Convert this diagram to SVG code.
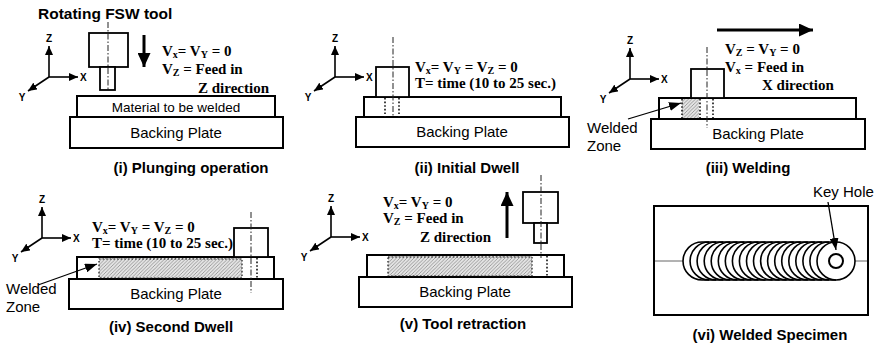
<svg xmlns="http://www.w3.org/2000/svg" width="881" height="348" viewBox="0 0 881 348">
  <style>
    .plate { fill: #fff; stroke: #000; stroke-width: 2; }
    .tool { fill: #fff; stroke: #000; stroke-width: 1.8; }
    .cl { fill: none; stroke: #222; stroke-width: 1; stroke-dasharray: 6 2 1.5 2; }
    .dot { fill: none; stroke: #111; stroke-width: 1.6; stroke-dasharray: 1.6 2; }
    .axis { stroke: #000; stroke-width: 1.6; marker-end: url(#axhead); }
    .axl { font: bold 10px "Liberation Sans", Arial, sans-serif; fill: #000; }
    .eq { font: bold 15px "Liberation Serif", "Times New Roman", serif; fill: #000; }
    .sub { font-size: 10px; }
    .lbl { font: 15px "Liberation Sans", Arial, sans-serif; fill: #000; }
    .mat { font: 13.5px "Liberation Sans", Arial, sans-serif; fill: #000; }
    .cap { font: bold 15px "Liberation Sans", Arial, sans-serif; fill: #000; }
    .move { stroke: #000; stroke-width: 3; fill: none; }
    .lead { stroke: #000; stroke-width: 1.3; fill: none; marker-end: url(#leadhead); }
    .weld { fill: none; stroke: #000; stroke-width: 1.6; }
  </style>
  <defs>
    <marker id="axhead" markerUnits="userSpaceOnUse" markerWidth="9" markerHeight="8" refX="9" refY="4" orient="auto">
      <path d="M0,0 L9,4 L0,8 z" fill="#000"/>
    </marker>
    <marker id="leadhead" markerUnits="userSpaceOnUse" markerWidth="12" markerHeight="9" refX="12" refY="4.5" orient="auto">
      <path d="M0,0 L12,4.5 L0,9 z" fill="#000"/>
    </marker>
    <marker id="movehead" markerUnits="userSpaceOnUse" markerWidth="14" markerHeight="13" refX="14" refY="6.5" orient="auto">
      <path d="M0,0 L14,6.5 L0,13 z" fill="#000"/>
    </marker>
    <pattern id="hatch" patternUnits="userSpaceOnUse" width="3.5" height="3.5">
      <rect width="3.5" height="3.5" fill="#e4e4e4"/>
      <path d="M-1,4.5 L4.5,-1" stroke="#8a8a8a" stroke-width="0.8"/>
    </pattern>
  </defs>

  <rect width="881" height="348" fill="#fff"/>

  <!-- (i) Plunging -->
  <g id="step-plunging">
    <text class="cap" x="38" y="19" style="font-size:15.5px">Rotating FSW tool</text>
    <g transform="translate(49,77)">
      <line class="axis" x1="0" y1="0" x2="0" y2="-31"/>
      <line class="axis" x1="0" y1="0" x2="29" y2="0"/>
      <line class="axis" x1="0" y1="0" x2="-21" y2="14"/>
      <text class="axl" x="0" y="-35" text-anchor="middle">Z</text>
      <text class="axl" x="31" y="4">X</text>
      <text class="axl" x="-27" y="24" text-anchor="middle">Y</text>
    </g>
    <rect class="plate" x="70" y="117" width="213" height="31"/>
    <rect class="plate" x="77" y="96" width="198" height="21"/>
    <text class="mat" x="176" y="112" text-anchor="middle">Material to be welded</text>
    <text class="lbl" x="176" y="138" text-anchor="middle">Backing Plate</text>
    <rect class="tool" x="89" y="33" width="39" height="34"/>
    <rect class="tool" x="100" y="67" width="15" height="23"/>
    <line class="cl" x1="108" y1="22" x2="108" y2="91"/>
    <text class="eq" x="162" y="56">V<tspan class="sub" dy="2">x</tspan><tspan dy="-2">= V</tspan><tspan class="sub" dy="2">Y</tspan><tspan dy="-2"> = 0</tspan></text>
    <text class="eq" x="162" y="74">V<tspan class="sub" dy="2">Z</tspan><tspan dy="-2"> = Feed in</tspan></text>
    <text class="eq" x="198" y="93">Z direction</text>
    <text class="cap" x="191" y="173" text-anchor="middle">(i) Plunging operation</text>
  </g>

  <!-- (ii) Initial dwell -->
  <g id="step-initial-dwell">
    <g transform="translate(335,77)">
      <line class="axis" x1="0" y1="0" x2="0" y2="-31"/>
      <line class="axis" x1="0" y1="0" x2="29" y2="0"/>
      <line class="axis" x1="0" y1="0" x2="-21" y2="14"/>
      <text class="axl" x="0" y="-35" text-anchor="middle">Z</text>
      <text class="axl" x="31" y="4">X</text>
      <text class="axl" x="-27" y="24" text-anchor="middle">Y</text>
    </g>
    <rect class="plate" x="356" y="117" width="213" height="30"/>
    <rect class="plate" x="364" y="97" width="197" height="20"/>
    <text class="lbl" x="462" y="137" text-anchor="middle">Backing Plate</text>
    <rect class="tool" x="376" y="67" width="33" height="30"/>
    <line class="dot" x1="385" y1="98" x2="385" y2="117"/>
    <line class="dot" x1="399" y1="98" x2="399" y2="117"/>
    <line class="cl" x1="393" y1="37" x2="393" y2="117"/>
    <text class="eq" x="415" y="72">V<tspan class="sub" dy="2">x</tspan><tspan dy="-2">= V</tspan><tspan class="sub" dy="2">Y</tspan><tspan dy="-2"> = V</tspan><tspan class="sub" dy="2">Z</tspan><tspan dy="-2"> = 0</tspan></text>
    <text class="eq" x="415" y="88">T= time (10 to 25 sec.)</text>
    <text class="cap" x="467" y="173" text-anchor="middle">(ii) Initial Dwell</text>
  </g>

  <!-- (iii) Welding -->
  <g id="step-welding">
    <g transform="translate(630,79)">
      <line class="axis" x1="0" y1="0" x2="0" y2="-31"/>
      <line class="axis" x1="0" y1="0" x2="29" y2="0"/>
      <line class="axis" x1="0" y1="0" x2="-21" y2="14"/>
      <text class="axl" x="0" y="-35" text-anchor="middle">Z</text>
      <text class="axl" x="31" y="4">X</text>
      <text class="axl" x="-27" y="24" text-anchor="middle">Y</text>
    </g>
    <rect class="plate" x="651" y="119" width="214" height="30"/>
    <rect class="plate" x="659" y="98" width="197" height="21"/>
    <rect x="682" y="99" width="17" height="19" fill="url(#hatch)"/>
    <line class="dot" x1="682" y1="99" x2="682" y2="118"/>
    <line class="dot" x1="700" y1="99" x2="700" y2="118"/>
    <line class="dot" x1="713" y1="99" x2="713" y2="118"/>
    <text class="lbl" x="758" y="139" text-anchor="middle">Backing Plate</text>
    <rect class="tool" x="691" y="69" width="33" height="29"/>
    <line class="cl" x1="707" y1="47" x2="707" y2="128"/>
    <text class="eq" x="725" y="54">V<tspan class="sub" dy="2">Z</tspan><tspan dy="-2"> = V</tspan><tspan class="sub" dy="2">Y</tspan><tspan dy="-2"> = 0</tspan></text>
    <text class="eq" x="725" y="72">V<tspan class="sub" dy="2">x</tspan><tspan dy="-2"> = Feed in</tspan></text>
    <text class="eq" x="762" y="90">X direction</text>
    <text class="lbl" x="587" y="133">Welded</text>
    <text class="lbl" x="587" y="151">Zone</text>
    <text class="cap" x="748" y="173" text-anchor="middle">(iii) Welding</text>
  </g>

  <!-- (iv) Second dwell -->
  <g id="step-second-dwell">
    <g transform="translate(42,238)">
      <line class="axis" x1="0" y1="0" x2="0" y2="-31"/>
      <line class="axis" x1="0" y1="0" x2="29" y2="0"/>
      <line class="axis" x1="0" y1="0" x2="-21" y2="14"/>
      <text class="axl" x="0" y="-35" text-anchor="middle">Z</text>
      <text class="axl" x="31" y="4">X</text>
      <text class="axl" x="-27" y="24" text-anchor="middle">Y</text>
    </g>
    <rect class="plate" x="69" y="279" width="214" height="30"/>
    <rect class="plate" x="77" y="257" width="197" height="22"/>
    <rect x="99" y="258" width="143" height="20" fill="url(#hatch)"/>
    <rect class="dot" x="99" y="259" width="143" height="19" style="stroke-width:1.2"/>
    <line class="dot" x1="257" y1="258" x2="257" y2="278"/>
    <text class="lbl" x="176" y="299" text-anchor="middle">Backing Plate</text>
    <rect class="tool" x="234" y="228" width="34" height="29"/>
    <line class="cl" x1="251" y1="212" x2="251" y2="293"/>
    <text class="eq" x="92" y="232">V<tspan class="sub" dy="2">x</tspan><tspan dy="-2">= V</tspan><tspan class="sub" dy="2">Y</tspan><tspan dy="-2"> = V</tspan><tspan class="sub" dy="2">Z</tspan><tspan dy="-2"> = 0</tspan></text>
    <text class="eq" x="92" y="248">T= time (10 to 25 sec.)</text>
    <text class="lbl" x="6" y="294">Welded</text>
    <text class="lbl" x="6" y="312">Zone</text>
    <text class="cap" x="171" y="332" text-anchor="middle">(iv) Second Dwell</text>
  </g>

  <!-- (v) Tool retraction -->
  <g id="step-retraction">
    <g transform="translate(331,237)">
      <line class="axis" x1="0" y1="0" x2="0" y2="-31"/>
      <line class="axis" x1="0" y1="0" x2="29" y2="0"/>
      <line class="axis" x1="0" y1="0" x2="-21" y2="14"/>
      <text class="axl" x="0" y="-35" text-anchor="middle">Z</text>
      <text class="axl" x="31" y="4">X</text>
      <text class="axl" x="-27" y="24" text-anchor="middle">Y</text>
    </g>
    <rect class="plate" x="359" y="277" width="213" height="30"/>
    <rect class="plate" x="367" y="255" width="197" height="22"/>
    <rect x="388" y="256" width="144" height="20" fill="url(#hatch)"/>
    <rect class="dot" x="388" y="257" width="144" height="19" style="stroke-width:1.2"/>
    <line class="dot" x1="547" y1="256" x2="547" y2="276"/>
    <text class="lbl" x="465" y="297" text-anchor="middle">Backing Plate</text>
    <rect class="tool" x="523" y="192" width="35" height="31"/>
    <rect class="tool" x="534" y="223" width="13" height="20"/>
    <line class="cl" x1="541" y1="175" x2="541" y2="258"/>
    <text class="eq" x="383" y="207">V<tspan class="sub" dy="2">x</tspan><tspan dy="-2">= V</tspan><tspan class="sub" dy="2">Y</tspan><tspan dy="-2"> = 0</tspan></text>
    <text class="eq" x="383" y="223">V<tspan class="sub" dy="2">Z</tspan><tspan dy="-2"> = Feed in</tspan></text>
    <text class="eq" x="420" y="242">Z direction</text>
    <text class="cap" x="463" y="329" text-anchor="middle">(v) Tool retraction</text>
  </g>

  <!-- (vi) Welded specimen, top view -->
  <g id="welded-specimen">
    <rect class="plate" x="654" y="206" width="214" height="109"/>
    <line x1="655" y1="261" x2="683" y2="261" stroke="#666" stroke-width="1"/>
    <line x1="855" y1="261" x2="867" y2="261" stroke="#666" stroke-width="1"/>
    <path class="weld" d="M702,242 H836 A19,19 0 0 1 836,280 H702 A19,19 0 0 1 702,242 Z"/>
    <path class="weld" d="M709.05,242 A19,19 0 0 0 709.05,280 M716.1,242 A19,19 0 0 0 716.1,280 M723.2,242 A19,19 0 0 0 723.2,280 M730.2,242 A19,19 0 0 0 730.2,280 M737.3,242 A19,19 0 0 0 737.3,280 M744.3,242 A19,19 0 0 0 744.3,280 M751.4,242 A19,19 0 0 0 751.4,280 M758.4,242 A19,19 0 0 0 758.4,280 M765.5,242 A19,19 0 0 0 765.5,280 M772.5,242 A19,19 0 0 0 772.5,280 M779.6,242 A19,19 0 0 0 779.6,280 M786.6,242 A19,19 0 0 0 786.6,280 M793.7,242 A19,19 0 0 0 793.7,280 M800.7,242 A19,19 0 0 0 800.7,280 M807.8,242 A19,19 0 0 0 807.8,280 M814.8,242 A19,19 0 0 0 814.8,280 M821.9,242 A19,19 0 0 0 821.9,280 M828.9,242 A19,19 0 0 0 828.9,280 M836,242 A19,19 0 0 0 836,280"/>
    <circle cx="836" cy="261" r="7" fill="#fff" stroke="#000" stroke-width="2"/>
    <text class="lbl" x="813" y="197">Key Hole</text>
    <text class="cap" x="770" y="340" text-anchor="middle">(vi) Welded Specimen</text>
  </g>

  <!-- motion arrows and leaders -->
  <g id="connectors">
    <line class="move" x1="144" y1="35" x2="144" y2="67" marker-end="url(#movehead)"/>
    <line class="move" x1="717" y1="30" x2="813" y2="30" marker-end="url(#movehead)"/>
    <line class="move" x1="507" y1="238" x2="507" y2="192" marker-end="url(#movehead)"/>
    <line class="lead" x1="628" y1="119" x2="681" y2="103"/>
    <line class="lead" x1="38" y1="285" x2="97" y2="264"/>
    <line class="lead" x1="828" y1="202" x2="836" y2="250"/>
  </g>
</svg>
